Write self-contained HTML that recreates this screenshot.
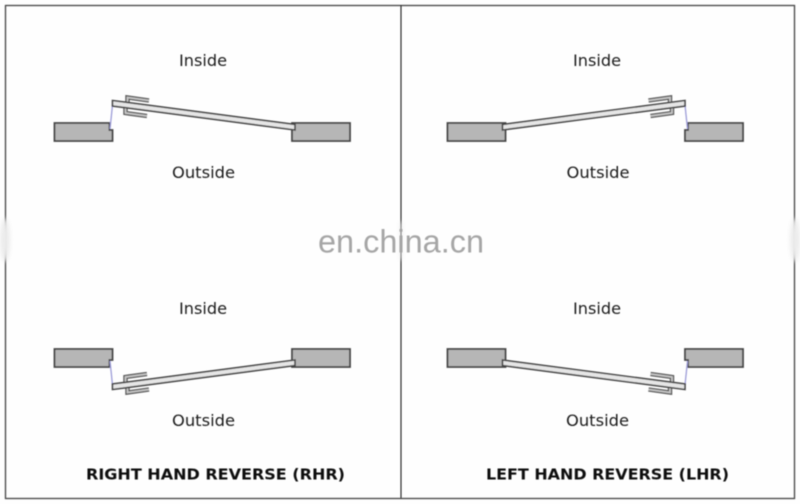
<!DOCTYPE html>
<html>
<head>
<meta charset="utf-8">
<style>
html,body{margin:0;padding:0;background:#fefefe;width:800px;height:504px;overflow:hidden}
svg{display:block}
text{font-family:"DejaVu Sans",sans-serif;fill:#1c1c1c}
</style>
</head>
<body>
<svg width="800" height="504" viewBox="0 0 800 504" xmlns="http://www.w3.org/2000/svg">
<defs>
<filter id="b" x="-10%" y="-10%" width="120%" height="120%"><feGaussianBlur stdDeviation="0.4"/></filter>
<filter id="b2" x="-100%" y="-20%" width="300%" height="140%"><feGaussianBlur stdDeviation="2"/></filter>
<g id="door">
<path d="M54.5 123H109.5V130H112.5V141H54.5Z" fill="#b6b6b6" stroke="#444" stroke-width="1.8"/>
<path d="M292 123H350V141H292Z" fill="#b6b6b6" stroke="#444" stroke-width="1.8"/>
<path d="M112.5 105L110 129" fill="none" stroke="#9c9cd8" stroke-width="1.3"/>
<path d="M127.5 102V97.5L149 100.5" fill="none" stroke="#555" stroke-width="4.4"/>
<path d="M127.5 102V97.5L149 100.5" fill="none" stroke="#c8c8c8" stroke-width="1.8"/>
<path d="M125.5 108V113L147 116" fill="none" stroke="#555" stroke-width="4.4"/>
<path d="M125.5 108V113L147 116" fill="none" stroke="#c8c8c8" stroke-width="1.8"/>
<path d="M112.5 100.5L295 124.5V130L112.5 106Z" fill="#e6e6e6" stroke="#444" stroke-width="1.6"/>
</g>
</defs>
<rect width="800" height="504" fill="#fefefe"/>
<g filter="url(#b)">
<rect x="5.5" y="5.5" width="789" height="493" fill="none" stroke="#444" stroke-width="1.3"/>
<line x1="401" y1="5" x2="401" y2="498" stroke="#222" stroke-width="1.1"/>
<use href="#door"/>
<use href="#door" transform="translate(797.5,0) scale(-1,1)"/>
<use href="#door" transform="translate(0,490) scale(1,-1)"/>
<use href="#door" transform="translate(797.5,490) scale(-1,-1)"/>
<text x="203" y="66" font-size="15.6" text-anchor="middle" textLength="48" lengthAdjust="spacingAndGlyphs">Inside</text>
<text x="597" y="66" font-size="15.6" text-anchor="middle" textLength="48" lengthAdjust="spacingAndGlyphs">Inside</text>
<text x="203.5" y="178" font-size="15.6" text-anchor="middle" textLength="63" lengthAdjust="spacingAndGlyphs">Outside</text>
<text x="598" y="178" font-size="15.6" text-anchor="middle" textLength="63" lengthAdjust="spacingAndGlyphs">Outside</text>
<text x="203" y="314" font-size="15.6" text-anchor="middle" textLength="48" lengthAdjust="spacingAndGlyphs">Inside</text>
<text x="597" y="314" font-size="15.6" text-anchor="middle" textLength="48" lengthAdjust="spacingAndGlyphs">Inside</text>
<text x="203.5" y="426" font-size="15.6" text-anchor="middle" textLength="63" lengthAdjust="spacingAndGlyphs">Outside</text>
<text x="597.5" y="426" font-size="15.6" text-anchor="middle" textLength="63" lengthAdjust="spacingAndGlyphs">Outside</text>
<text x="86" y="479.5" font-size="14.8" font-weight="700" textLength="259" lengthAdjust="spacingAndGlyphs" style="fill:#0c0c0c">RIGHT HAND REVERSE (RHR)</text>
<text x="486" y="479.5" font-size="14.8" font-weight="700" textLength="243" lengthAdjust="spacingAndGlyphs" style="fill:#0c0c0c">LEFT HAND REVERSE (LHR)</text>
</g>
<ellipse cx="5" cy="240" rx="5" ry="22" fill="#ececec" filter="url(#b2)"/>
<ellipse cx="795" cy="240" rx="5" ry="22" fill="#ececec" filter="url(#b2)"/>
<rect x="399" y="222" width="4" height="38" fill="#f2f2f2" opacity="0.7" filter="url(#b2)"/>
<text x="401" y="252.5" font-size="32" text-anchor="middle" textLength="166" lengthAdjust="spacingAndGlyphs" filter="url(#b)" style='font-family:"Liberation Sans",sans-serif;fill:#a6a6a6'>en.china.cn</text>
</svg>
</body>
</html>
